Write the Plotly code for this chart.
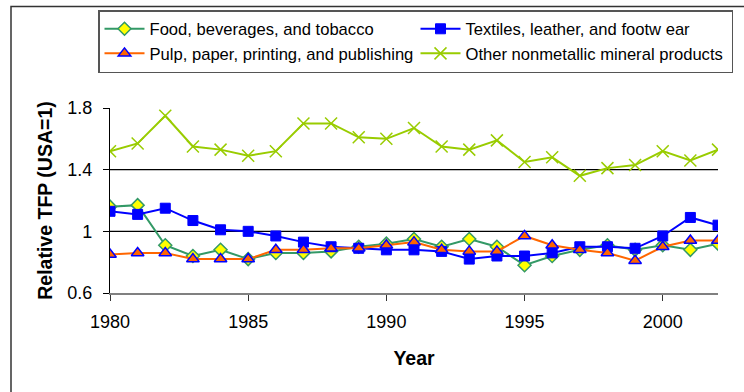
import plotly.graph_objects as go

years = list(range(1980, 2003))
food = [1.16, 1.17, 0.91, 0.84, 0.88, 0.82, 0.86, 0.86, 0.87, 0.90, 0.92, 0.95,
        0.90, 0.95, 0.90, 0.78, 0.84, 0.88, 0.91, 0.88, 0.91, 0.88, 0.92]
textiles = [1.13, 1.11, 1.15, 1.07, 1.01, 1.00, 0.97, 0.93, 0.90, 0.89, 0.88, 0.88,
            0.87, 0.82, 0.84, 0.84, 0.86, 0.90, 0.90, 0.89, 0.97, 1.09, 1.04]
pulp = [0.85, 0.86, 0.86, 0.82, 0.82, 0.82, 0.88, 0.88, 0.89, 0.89, 0.91, 0.93,
        0.88, 0.87, 0.87, 0.97, 0.91, 0.88, 0.86, 0.81, 0.90, 0.94, 0.94]
other = [1.52, 1.57, 1.75, 1.55, 1.53, 1.49, 1.52, 1.70, 1.70, 1.61, 1.60, 1.67,
         1.55, 1.53, 1.59, 1.45, 1.48, 1.36, 1.41, 1.43, 1.52, 1.46, 1.53]

names = ["Food, beverages, and tobacco", "Textiles, leather, and footw ear",
         "Pulp, paper, printing, and publishing", "Other nonmetallic mineral products"]
x_ticks = [1980, 1985, 1990, 1995, 2000]
y_ticks = [0.6, 1.0, 1.4, 1.8]
y_tick_text = ["0.6", "1", "1.4", "1.8"]
gridlines = [1.0, 1.4]

FONT = "Liberation Sans, Arial, sans-serif"

fig = go.Figure()
fig.add_trace(go.Scatter(x=years, y=food, name=names[0], mode="lines+markers",
                         line=dict(color="#339966", width=2),
                         marker=dict(symbol="diamond", size=10, color="#FFFF00",
                                     line=dict(color="#339966", width=1.5))))
fig.add_trace(go.Scatter(x=years, y=textiles, name=names[1], mode="lines+markers",
                         line=dict(color="#0000FF", width=2),
                         marker=dict(symbol="square", size=10, color="#0000FF",
                                     line=dict(color="#0000FF", width=1))))
fig.add_trace(go.Scatter(x=years, y=pulp, name=names[2], mode="lines+markers",
                         line=dict(color="#FF6600", width=2),
                         marker=dict(symbol="triangle-up", size=11, color="#FF6600",
                                     line=dict(color="#0000FF", width=1.5))))
fig.add_trace(go.Scatter(x=years, y=other, name=names[3], mode="lines+markers",
                         line=dict(color="#99CC00", width=2),
                         marker=dict(symbol="x-thin", size=12, color="#99CC00",
                                     line=dict(color="#99CC00", width=1.5))))

for g in gridlines:
    fig.add_shape(type="line", xref="paper", yref="y", x0=0, x1=1, y0=g, y1=g,
                  line=dict(color="black", width=1.3), layer="below")

# outer chart border (extends beyond the visible right and bottom edges)
fig.add_shape(type="rect", xref="paper", yref="paper",
              x0=(11 - 110) / 608, x1=(760 - 110) / 608,
              y0=(293 - 420) / 186, y1=(293 - 5) / 186,
              line=dict(color="#333333", width=1.5), fillcolor="rgba(0,0,0,0)")

fig.update_layout(
    width=744, height=392,
    margin=dict(l=110, r=26, t=107, b=99),
    paper_bgcolor="white", plot_bgcolor="white",
    font=dict(family=FONT, color="black"),
    showlegend=True,
    legend=dict(orientation="h", x=(98 - 110) / 608, xanchor="left",
                y=(293 - 10) / 186, yanchor="top",
                bordercolor="#555555", borderwidth=1.5, bgcolor="white",
                font=dict(family=FONT, size=16.6, color="black"),
                entrywidth=261, entrywidthmode="pixels", itemwidth=40,
                traceorder="normal"),
    xaxis=dict(range=[1980, 2002], tickvals=x_ticks, showgrid=False, zeroline=False,
               showline=True, linecolor="#808080", linewidth=1.5,
               ticks="outside", ticklen=6, tickcolor="#333333",
               ticklabelstandoff=6,
               tickfont=dict(family=FONT, size=18, color="black"),
               title=dict(text="<b>Year</b>", font=dict(family=FONT, size=19.5, color="black"),
                          standoff=20)),
    yaxis=dict(range=[0.6, 1.8], tickvals=y_ticks, ticktext=y_tick_text,
               showgrid=False, zeroline=False,
               showline=True, linecolor="black", linewidth=1.2,
               ticks="outside", ticklen=6, tickcolor="black",
               ticklabelstandoff=7,
               tickfont=dict(family=FONT, size=18, color="black"),
               title=dict(text="<b>Relative TFP (USA=1)</b>",
                          font=dict(family=FONT, size=19.5, color="black"), standoff=9)),
)

fig.write_html("out.html")
